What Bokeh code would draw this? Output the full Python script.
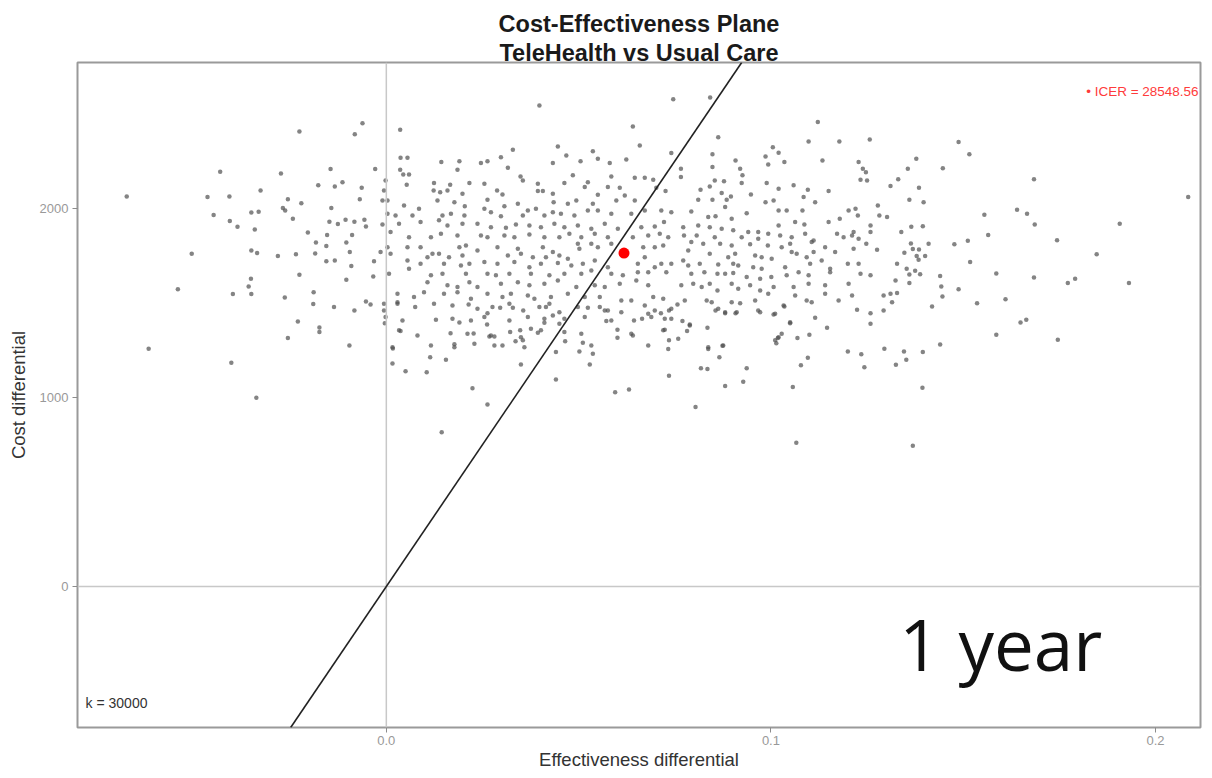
from bokeh.plotting import figure
from bokeh.models import Range1d, FixedTicker, NumeralTickFormatter, Span, Slope, Label, Title
from bokeh.embed import file_html
from bokeh.resources import INLINE

# ---- data (effectiveness differential, cost differential) ----
sims_west = [(-0.0226,2407),(-0.0062,2451),(-0.0082,2392),(-0.0432,2194),(-0.0274,2185),(-0.0145,2208),(-0.0029,2208),(-0.0675,2063),(-0.0465,2060),(-0.0408,2063),(-0.0327,2095),(-0.0177,2122),(-0.0134,2116),(-0.0114,2138),(-0.0064,2110),(-0.0256,2049),(-0.0221,2028),(-0.0069,2048),(-0.0449,1965),(-0.0351,1979),(-0.0332,1983),(-0.0269,2002),(-0.0263,1989),(-0.0143,2002),(-0.0407,1933),(-0.0387,1903),(-0.0342,1889),(-0.0243,1946),(-0.0148,1930),(-0.0126,1917),(-0.0106,1940),(-0.0083,1930),(-0.0057,1940),(-0.0053,1905),(-0.0204,1873),(-0.0154,1859),(-0.0089,1859),(-0.0183,1820),(-0.0156,1801),(-0.0104,1820),(-0.0506,1760),(-0.0351,1778),(-0.0336,1764),(-0.0282,1748),(-0.0235,1758),(-0.0185,1762),(-0.0095,1769),(-0.0156,1720),(-0.0134,1725),(-0.0091,1695),(-0.0032,1720),(-0.0226,1649),(-0.0104,1623),(-0.0034,1640),(-0.0542,1573),(-0.0352,1628),(-0.0358,1587),(-0.0399,1547),(-0.0351,1547),(-0.0264,1529),(-0.0189,1556),(-0.0190,1494),(-0.0136,1478),(-0.0083,1460),(-0.0053,1508),(-0.0041,1492),(-0.0230,1402),(-0.0174,1370),(-0.0174,1346),(-0.0256,1314),(-0.0096,1275),(-0.0618,1258)]

sims_low = [(-0.0006,1460),(0.0029,1504),(0.0075,1478),(0.0214,1492),(-0.0004,1393),(0.0129,1411),(0.0190,1397),(0.0037,1351),(0.0167,1340),(0.0227,1339),(0.0017,1259),(0.0177,1282),(-0.0403,1184),(0.0016,1180),(0.0114,1213),(0.0155,1199),(0.0050,1138),(0.0105,1134),(0.0224,1049),(-0.0338,998),(0.0144,816)]

sims_mid_low = [(0.0441,1095),(0.0350,1175),(0.0263,963),(0.0529,1175),(0.0537,1231),(0.0502,1243),(0.0441,1240),(0.0465,1298),(0.0511,1289),(0.0595,1028),(0.0631,1042),(0.0735,1115),(0.0733,1256),(0.0735,1302),(0.0759,1311),(0.0804,949),(0.0818,1155),(0.0835,1150),(0.0837,1256),(0.0866,1213),(0.0874,1274),(0.0881,1060),(0.0928,1083),(0.0937,1155),(0.0835,1369),(0.1057,1055),(0.1066,760),(0.1078,1171),(0.1096,1210),(0.1014,1287),(0.1018,1314),(0.1069,1314),(0.1100,1332),(0.1028,1337),(0.1050,1393),(0.1115,1422),(0.1146,1369),(0.1200,1243),(0.1235,1228),(0.1243,1160),(0.1259,1390),(0.1259,1446),(0.1224,1464),(0.0601,1358),(0.0601,1316),(0.0637,1337),(0.0724,1358),(0.0789,1386),(0.0782,1351),(0.0644,1407),(0.0665,1416),(0.0741,1416),(0.0770,1404),(0.0572,1404),(0.0524,1475),(0.0463,1346),(0.0433,1434),(0.0411,1395),(0.0450,1390),(0.0376,1364),(0.0394,1342),(0.0348,1355),(0.0322,1346),(0.0320,1407),(0.0302,1275),(0.0336,1298),(0.0355,1302),(0.0268,1323),(0.0281,1323),(0.0262,1386),(0.0263,1446),(0.0296,1475),(0.0329,1475),(0.0356,1460),(0.0415,1478),(0.0568,1460),(0.0611,1451),(0.0681,1443),(0.0714,1446),(0.0735,1460),(0.0757,1492),(0.0856,1460),(0.0881,1446),(0.0908,1446),(0.0967,1460),(0.1007,1439),(0.1035,1481)]

sims_east = [(0.1293,1460),(0.1419,1481),(0.1536,1499),(0.1295,1258),(0.1346,1243),(0.1352,1199),(0.1325,1173),(0.1395,1240),(0.1440,1280),(0.1394,1051),(0.1369,744),(0.1586,1332),(0.1649,1397),(0.1664,1411),(0.1746,1305),(0.1488,2351),(0.1516,2286),(0.1378,2263),(0.1356,2210),(0.1447,2212),(0.1684,2155),(0.1385,2110),(0.1360,2046),(0.1397,2033),(0.2085,2060),(0.1640,1993),(0.1666,1972),(0.1555,1967),(0.1686,1915),(0.1907,1919),(0.1365,1903),(0.1395,1906),(0.1565,1859),(0.1744,1832),(0.1477,1811),(0.1512,1829),(0.1410,1813),(0.1364,1815),(0.1369,1785),(0.1385,1783),(0.1347,1766),(0.1379,1748),(0.1401,1748),(0.1384,1729),(0.1847,1757),(0.1518,1716),(0.1353,1681),(0.1375,1670),(0.1388,1652),(0.1360,1651),(0.1440,1642),(0.1586,1656),(0.1684,1635),(0.1791,1628),(0.1772,1605),(0.1931,1605),(0.1360,1605),(0.1443,1587),(0.1488,1573),(0.1446,1534),(0.1610,1519)]

sims_upper_right = [(0.1122,2457),(0.1098,2354),(0.1178,2354),(0.1257,2364),(0.0863,2377),(0.1005,2324),(0.1020,2295),(0.0986,2275),(0.1035,2245),(0.0993,2233),(0.0908,2254),(0.0848,2286),(0.0848,2219),(0.0766,2210),(0.0766,2166),(0.0920,2210),(0.0926,2175),(0.1134,2254),(0.1228,2245),(0.1239,2210),(0.1247,2192),(0.1233,2152),(0.1250,2148),(0.1331,2155),(0.1311,2118),(0.0854,2148),(0.0878,2144),(0.0841,2116),(0.0817,2099),(0.0989,2134),(0.0924,2134),(0.1059,2122),(0.1020,2104),(0.1096,2099),(0.1150,2092),(0.0872,2081),(0.0896,2063),(0.0948,2074),(0.1085,2060),(0.0811,2046),(0.0848,2046),(0.0885,2046),(0.0986,2033),(0.1007,2042),(0.1115,2033),(0.0881,2007),(0.0793,1984),(0.0837,1954),(0.0856,1959),(0.0898,1946),(0.0937,1975),(0.1020,1989),(0.1041,1989),(0.1082,1989),(0.1063,1928),(0.1087,1915),(0.1020,1910),(0.1150,1928),(0.1179,1946),(0.1202,1989),(0.1220,1998),(0.1226,1963),(0.1278,2016),(0.1282,1963),(0.1302,1954),(0.1339,1875),
(0.0772,1901),(0.0811,1910),(0.0841,1901),(0.0872,1893),(0.0902,1884),(0.0941,1875),(0.0967,1875),(0.0993,1866),(0.0774,1857),(0.0807,1857),(0.0854,1848),(0.0924,1848),(0.0967,1840),(0.1024,1857),(0.1054,1848),(0.1089,1866),(0.1111,1831),(0.1172,1866),(0.1189,1848),(0.1211,1857),(0.1228,1840),(0.1215,1875),(0.1259,1910),(0.1259,1875),(0.0793,1822),(0.0824,1813),(0.0868,1813),(0.0898,1804),(0.0946,1810),(0.0992,1804),(0.1028,1795),(0.1050,1813),(0.1106,1822),(0.1141,1795),(0.1167,1769),(0.1215,1787),(0.1248,1813),(0.1276,1781),(0.0785,1778),(0.0841,1760),(0.0889,1742),(0.0907,1760),(0.0959,1751),(0.0976,1742),(0.1002,1734),(0.1054,1769),(0.1067,1760),(0.1093,1742),(0.1111,1769),(0.1132,1725),(0.0772,1725),(0.0785,1698),(0.0815,1707),(0.0863,1704),(0.0902,1707),(0.0915,1698),(0.0954,1689),(0.0976,1681),(0.1037,1689),(0.1102,1707),(0.1154,1681),(0.1200,1707),(0.1228,1707),(0.1328,1707),
(0.0793,1654),(0.0827,1663),(0.0861,1654),(0.0881,1654),(0.0902,1658),(0.0937,1637),(0.0972,1628),(0.1001,1637),(0.1041,1646),(0.1072,1663),(0.1098,1646),(0.1154,1663),(0.1233,1654),(0.1259,1646),(0.0767,1593),(0.0798,1602),(0.0820,1584),(0.0841,1602),(0.0861,1566),(0.0898,1602),(0.0915,1575),(0.0946,1593),(0.0972,1566),(0.1007,1584),(0.1059,1584),(0.1098,1602),(0.1141,1593),(0.1202,1602),(0.1324,1619),(0.0776,1513),(0.0833,1513),(0.0846,1504),(0.0898,1504),(0.0920,1499),(0.0959,1513),(0.0993,1549),(0.1063,1540),(0.1093,1513),(0.1106,1504),(0.1141,1549),(0.1176,1513),(0.1211,1540),(0.1293,1540),(0.1311,1549),(0.1328,1552),(0.1315,1504),(0.0863,1469),(0.0881,1451),(0.0911,1451),(0.0972,1451),(0.1011,1443),(0.1033,1487),(0.0789,1381),(0.1050,1398),(0.1020,1319),(0.1011,1302),(0.0837,1266),(0.0876,1275)]

sims_centre = [(0.0746,2577),(0.0842,2587),(0.0398,2545),(0.0641,2434),(0.0036,2416),(0.0659,2333),(0.0446,2328),(0.0329,2311),(0.0537,2303),(0.0741,2293),(0.0037,2268),(0.0055,2268),(0.0143,2245),(0.0190,2249),(0.0246,2240),(0.0263,2250),(0.0298,2271),(0.0433,2240),(0.0468,2280),(0.0505,2250),(0.0550,2263),(0.0581,2240),(0.0624,2259),(0.0036,2205),(0.0044,2180),(0.0059,2180),(0.0185,2205),(0.0316,2215),(0.0349,2169),(0.0355,2148),(0.0394,2131),(0.0463,2134),(0.0485,2175),(0.0524,2139),(0.0516,2113),(0.0585,2169),(0.0646,2162),(0.0672,2162),(0.0694,2152),(-0.0002,2148),(0.0124,2134),(0.0166,2125),(0.0216,2134),(0.0255,2131),(-0.0006,2095),(0.0053,2125),(0.0123,2095),(0.0140,2086),(0.0159,2095),(0.0198,2078),(0.0288,2095),(0.0302,2074),(0.0394,2092),(0.0407,2092),(0.0433,2078),(0.0550,2073),(0.0576,2113),(0.0607,2110),(0.0620,2069),(0.0702,2110),(0.0726,2092),
(-0.0010,2042),(0.0003,2042),(0.0133,2042),(0.0177,2033),(0.0263,2046),(0.0342,2025),(0.0435,2033),(0.0472,2025),(0.0494,2042),(0.0537,2025),(0.0598,2042),(0.0646,2042),(0.0046,2016),(0.0085,1998),(0.0204,2011),(0.0255,1998),(0.0272,1980),(0.0307,2011),(0.0368,1989),(0.0389,1998),(0.0433,1980),(0.0524,1989),(0.0550,1989),(0.0585,1972),(0.0637,1972),(0.0672,1989),(0.0715,1989),(0.0741,1980),(0.0003,1972),(0.0024,1963),(0.0068,1963),(0.0146,1963),(0.0168,1972),(0.0203,1963),(0.0298,1958),(0.0355,1963),(0.0411,1963),(0.0454,1972),(0.0489,1963),
(-0.0010,1915),(0.0033,1919),(0.0089,1928),(0.0137,1937),(0.0159,1910),(0.0198,1919),(0.0237,1919),(0.0272,1901),(0.0311,1898),(0.0337,1915),(0.0372,1910),(0.0402,1901),(0.0437,1919),(0.0463,1901),(0.0498,1910),(0.0533,1893),(0.0568,1919),(0.0602,1893),(0.0663,1901),(0.0698,1905),(0.0722,1928),(0.0011,1875),(0.0059,1848),(0.0116,1848),(0.0142,1866),(0.0185,1857),(0.0246,1857),(0.0263,1848),(0.0307,1857),(0.0333,1848),(0.0372,1862),(0.0411,1848),(0.0450,1848),(0.0476,1866),(0.0507,1848),(0.0542,1866),(0.0576,1848),(0.0641,1848),(0.0681,1857),(0.0711,1866),(0.0733,1848),
(0.0003,1795),(0.0055,1795),(0.0089,1795),(0.0120,1760),(0.0137,1760),(0.0190,1795),(0.0207,1804),(0.0237,1778),(0.0289,1795),(0.0342,1787),(0.0350,1760),(0.0407,1795),(0.0433,1769),(0.0450,1751),(0.0498,1813),(0.0502,1787),(0.0533,1813),(0.0550,1795),(0.0585,1813),(0.0668,1795),(0.0698,1795),(0.0720,1804),(0.0011,1760),(-0.0015,1769),(0.0107,1742),(0.0163,1742),(0.0198,1751),(0.0316,1751),(0.0381,1742),(0.0415,1742),(0.0472,1734),(0.0672,1742),(0.0715,1707),(0.0055,1725),(0.0089,1707),(0.0150,1707),(0.0194,1698),(0.0216,1707),(0.0255,1716),(0.0289,1707),(0.0333,1716),(0.0372,1689),(0.0402,1707),(0.0446,1711),(0.0481,1698),(0.0511,1707),(0.0542,1725),(0.0576,1689),(0.0654,1707),(0.0698,1689),(0.0741,1707),
(0.0007,1654),(0.0059,1681),(0.0116,1646),(0.0146,1654),(0.0207,1654),(0.0263,1654),(0.0285,1646),(0.0320,1654),(0.0376,1654),(0.0424,1646),(0.0463,1654),(0.0507,1654),(0.0533,1672),(0.0585,1654),(0.0615,1646),(0.0654,1663),(0.0681,1663),(0.0728,1663),(0.0107,1610),(0.0159,1593),(0.0185,1584),(0.0216,1610),(0.0237,1584),(0.0298,1602),(0.0342,1610),(0.0372,1593),(0.0411,1602),(0.0446,1619),(0.0494,1584),(0.0542,1593),(0.0568,1584),(0.0607,1602),(0.0650,1619),(0.0681,1593),
(0.0029,1549),(0.0072,1531),(0.0098,1557),(0.0150,1549),(0.0185,1557),(0.0220,1522),(0.0263,1549),(0.0302,1531),(0.0324,1549),(0.0368,1540),(0.0385,1522),(0.0428,1531),(0.0472,1549),(0.0516,1531),(0.0555,1531),(0.0611,1513),(0.0637,1513),(0.0694,1531),(0.0720,1522),(-0.0006,1496),(0.0029,1496),(0.0124,1496),(0.0172,1487),(0.0237,1469),(0.0276,1478),(0.0320,1496),(0.0398,1478),(0.0424,1496),(0.0450,1451),(0.0498,1478),(0.0555,1478),(0.0576,1460),(0.0672,1487),(0.0698,1460),(0.0741,1469),(-0.0002,1425),(0.0042,1407),(0.0172,1416),(0.0220,1407),(0.0255,1425),(0.0368,1425),(0.0411,1416),(0.0463,1416),(0.0516,1425),(0.0585,1407),(0.0689,1425),(0.0724,1416),(0.0033,1355),(0.0081,1328),(0.0211,1337),(0.0272,1328),(0.0350,1319),(0.0402,1355),(0.0507,1337),(0.0641,1328),(0.0720,1355),(0.0016,1266),(0.0116,1275),(0.0177,1266),(0.0229,1284),(0.0281,1275),(0.0359,1266),(0.0533,1275),(0.0681,1275)]

mean_eff = 0.0618
mean_cost = 1764
icer_text = "\u2022 ICER = 28548.56"
wtp = 30000
x_ticks = [0.0, 0.1, 0.2]
y_ticks = [0, 1000, 2000]
title_main = "Cost-Effectiveness Plane"
title_sub = "TeleHealth vs Usual Care"
x_label = "Effectiveness differential"
y_label = "Cost differential"
horizon_text = "1 year"

groups = [sims_west, sims_low, sims_mid_low, sims_east, sims_upper_right, sims_centre]
eff = [pt[0] for g in groups for pt in g]
cost = [pt[1] for g in groups for pt in g]

FONT = "Liberation Sans"

p = figure(width=1210, height=774, output_backend="svg", toolbar_location=None,
           title=None,
           x_range=Range1d(-0.0803, 0.2117), y_range=Range1d(-746, 2772),
           min_border_left=77, min_border_right=10, min_border_top=62, min_border_bottom=47,
           background_fill_color="white", border_fill_color="white")

p.add_layout(Title(text=title_sub, align="center", text_font=FONT, text_font_size="23.5px",
                   text_font_style="bold", text_color="#1a1a1a", standoff=-7), "above")
p.add_layout(Title(text=title_main, align="center", text_font=FONT, text_font_size="23.5px",
                   text_font_style="bold", text_color="#1a1a1a", standoff=9), "above")

p.grid.visible = False
p.outline_line_color = "#9a9a9a"
p.outline_line_width = 2

for ax in (p.xaxis[0], p.yaxis[0]):
    ax.axis_line_color = None
    ax.major_tick_line_color = "#8c8c8c"
    ax.major_tick_out = 5
    ax.major_tick_in = 0
    ax.minor_tick_line_color = None
    ax.major_label_text_font = FONT
    ax.major_label_text_font_size = "13px"
    ax.major_label_text_color = "#999999"
    ax.major_label_standoff = 4
    ax.axis_label_text_font = FONT
    ax.axis_label_text_font_size = "18.5px"
    ax.axis_label_text_font_style = "normal"
    ax.axis_label_text_color = "#333333"

p.xaxis.ticker = FixedTicker(ticks=x_ticks)
p.xaxis.formatter = NumeralTickFormatter(format="0.0")
p.xaxis.axis_label = x_label
p.xaxis.major_label_standoff = 3
p.xaxis.axis_label_standoff = 1
p.yaxis.ticker = FixedTicker(ticks=y_ticks)
p.yaxis.formatter = NumeralTickFormatter(format="0")
p.yaxis.axis_label = y_label
p.yaxis.axis_label_standoff = 8

p.add_layout(Span(location=0, dimension="height", line_color="#c8c8c8", line_width=1.5))
p.add_layout(Span(location=0, dimension="width", line_color="#c8c8c8", line_width=1.5))

p.scatter(eff, cost, size=4.5, fill_color="#505050", line_color=None, fill_alpha=0.7)

p.add_layout(Slope(gradient=wtp, y_intercept=0, line_color="#222222", line_width=1.6))

p.scatter([mean_eff], [mean_cost], size=11, fill_color="#ff0000", line_color=None)

p.add_layout(Label(x=0.2112, y=2621, text=icer_text, text_align="right", text_baseline="middle",
                   text_font=FONT, text_font_size="13.5px", text_color="#ff3b3b"))
p.add_layout(Label(x=-0.0782, y=-614, text="k = %d" % wtp, text_align="left", text_baseline="middle",
                   text_font=FONT, text_font_size="14px", text_color="#333333"))
p.add_layout(Label(x=0.1334, y=-302, text=horizon_text, text_align="left", text_baseline="middle",
                   text_font="Open Sans", text_font_size="71px", text_color="#111111"))

open("out.html", "w").write(file_html(p, INLINE))
